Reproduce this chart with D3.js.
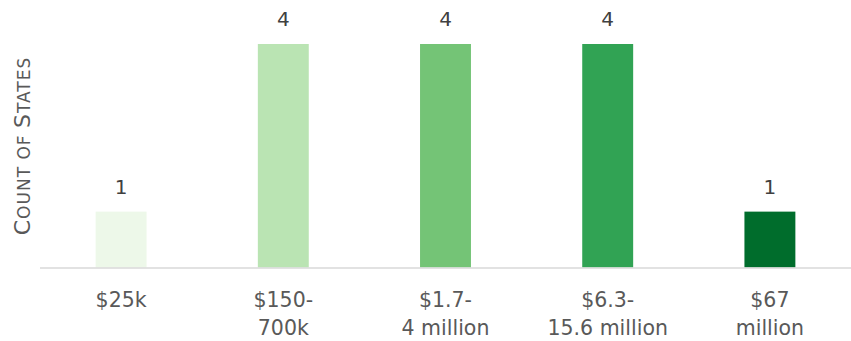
<!DOCTYPE html>
<html><head><meta charset="utf-8">
<script src="https://cdn.jsdelivr.net/npm/d3@7"></script>
<style>body{margin:0;background:#fff}svg{display:block}</style>
</head><body>
<script>
const categories = [["$25k"], ["$150-", "700k"], ["$1.7-", "4 million"], ["$6.3-", "15.6 million"], ["$67", "million"]];
const values = [1, 4, 4, 4, 1];
const colors = ["#edf8e9", "#bae4b3", "#74c476", "#31a354", "#006d2c"];

const W = 851, H = 341;
const font = "'DejaVu Sans',sans-serif";
const svg = d3.select("body").append("svg").attr("width", W).attr("height", H);

const x = d3.scaleBand().domain(d3.range(values.length)).range([40, 851]).paddingInner(0.686).paddingOuter(0.343);
const y = d3.scaleLinear().domain([0, 4]).range([267.5, 44]);

svg.selectAll("rect.bar").data(values).join("rect")
  .attr("class", "bar")
  .attr("x", (d, i) => x(i)).attr("width", x.bandwidth())
  .attr("y", d => y(d)).attr("height", d => y(0) - y(d))
  .attr("fill", (d, i) => colors[i]);

svg.append("line").attr("x1", 40).attr("x2", 851).attr("y1", y(0) + 0.5).attr("y2", y(0) + 0.5)
  .attr("stroke", "#d9d9d9").attr("stroke-width", 1.5);

svg.selectAll("text.val").data(values).join("text")
  .attr("class", "val")
  .attr("x", (d, i) => x(i) + x.bandwidth() / 2)
  .attr("y", d => y(d) - 18)
  .attr("text-anchor", "middle").attr("font-family", font).attr("font-size", 20)
  .attr("fill", "#404040").text(d => d);

const xl = svg.selectAll("text.cat").data(categories).join("text")
  .attr("class", "cat")
  .attr("text-anchor", "middle").attr("font-family", font).attr("font-size", 20.5)
  .attr("fill", "#595959");
xl.selectAll("tspan").data((d, i) => d.map(s => ({s, i}))).join("tspan")
  .attr("x", d => x(d.i) + x.bandwidth() / 2)
  .attr("y", (d, j) => 307 + j * 28)
  .text(d => d.s);

const t = svg.append("text").attr("transform", "translate(30,146) rotate(-90)")
  .attr("text-anchor", "middle").attr("font-family", font).attr("fill", "#595959")
  .attr("letter-spacing", 1);
[["C", 22], ["OUNT OF ", 17], ["S", 22], ["TATES", 17]].forEach(([s, fs]) => t.append("tspan").attr("font-size", fs).text(s));
</script>
</body></html>
